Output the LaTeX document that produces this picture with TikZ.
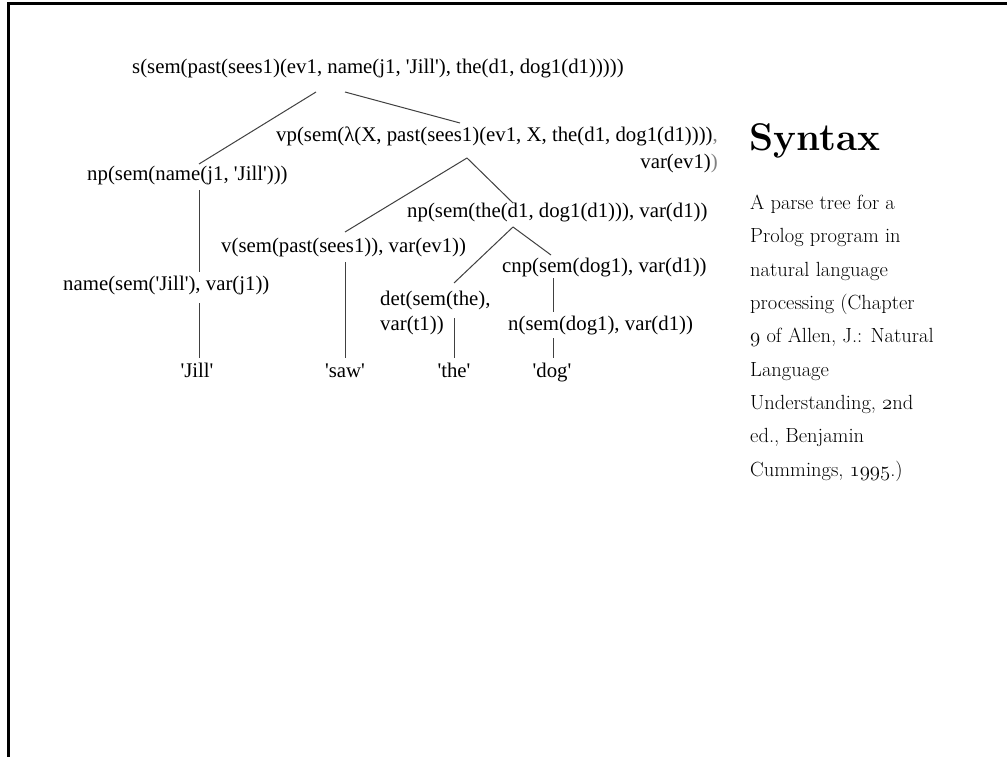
\documentclass[tikz,border=0pt]{standalone}
\usepackage{fontspec}
\newfontfamily\treefont{Liberation Serif}
\newcommand\osn[1]{{\usefont{OML}{cmm}{m}{it}#1}}
\begin{document}
\begin{tikzpicture}[x=1pt,y=-1pt,
  tn/.style={inner sep=0pt, font=\fontsize{20.8}{27}\selectfont\treefont},
  leaf/.style={tn, anchor=base},
  br/.style={line width=1pt, draw=black!75},
  sidebar/.style={inner sep=0pt, align=left, anchor=base west, font=\fontsize{20.5}{33.3}\selectfont}]
\fill[white] (0,0) rectangle (1007,757);
\useasboundingbox (0,0) rectangle (1007,757);
\draw[line width=3pt] (8.5,757) -- (8.5,4) -- (1007,4);

% tree nodes (multi-line nodes are placed by their last baseline)
\node[tn, anchor=base west] (s) at (132,74) {s(sem(past(sees1)(ev1, name(j1, 'Jill'), the(d1, dog1(d1)))))};
\node[tn, anchor=base east, align=right] (vp) at (718,168) {vp(sem(λ(X, past(sees1)(ev1, X, the(d1, dog1(d1))))\textcolor{gray}{,}\\var(ev1)\textcolor{gray}{)}};
\node[tn, anchor=base west] (npn) at (87,181) {np(sem(name(j1, 'Jill')))};
\node[tn, anchor=base west] (npt) at (407,218) {np(sem(the(d1, dog1(d1))), var(d1))};
\node[tn, anchor=base west] (v) at (221,252) {v(sem(past(sees1)), var(ev1))};
\node[tn, anchor=base west] (cnp) at (502,272) {cnp(sem(dog1), var(d1))};
\node[tn, anchor=base west] (name) at (63,290) {name(sem('Jill'), var(j1))};
\node[tn, anchor=base west, align=left, font=\fontsize{20.8}{25}\selectfont\treefont] (det) at (380,330) {det(sem(the),\\var(t1))};
\node[tn, anchor=base west] (n) at (508,330) {n(sem(dog1), var(d1))};
\node[leaf] (jill) at (197,377) {'Jill'};
\node[leaf] (saw) at (345,377) {'saw'};
\node[leaf] (the) at (454,377) {'the'};
\node[leaf] (dog) at (552,377) {'dog'};

% connector end points
\coordinate (s-l) at (316,92);
\coordinate (s-r) at (345,92);
\coordinate (npn-t) at (199,164);
\coordinate (npn-b) at (199,190);
\coordinate (vp-t) at (460,123);
\coordinate (vp-b) at (467,158);
\coordinate (v-t) at (345,232);
\coordinate (v-b) at (345,262);
\coordinate (npt-t) at (513,203);
\coordinate (npt-b) at (513,227);
\coordinate (det-t) at (454,283);
\coordinate (det-b) at (454,318);
\coordinate (cnp-t) at (551,255);
\coordinate (cnp-b) at (553,278);
\coordinate (name-t) at (199,272);
\coordinate (name-b) at (199,303);
\coordinate (n-t) at (553,312);
\coordinate (n-b) at (553,338);
\coordinate (jill-t) at (199,358);
\coordinate (saw-t) at (345,358);
\coordinate (the-t) at (454,358);
\coordinate (dog-t) at (553,358);

\draw[br] (s-l) -- (npn-t);
\draw[br] (s-r) -- (vp-t);
\draw[br] (vp-b) -- (v-t);
\draw[br] (vp-b) -- (npt-t);
\draw[br] (npt-b) -- (det-t);
\draw[br] (npt-b) -- (cnp-t);
\draw[br] (npn-b) -- (name-t);
\draw[br] (name-b) -- (jill-t);
\draw[br] (v-b) -- (saw-t);
\draw[br] (det-b) -- (the-t);
\draw[br] (cnp-b) -- (n-t);
\draw[br] (n-b) -- (dog-t);

% side text
\node[inner sep=0pt, anchor=base west, font=\fontsize{38.6}{40}\selectfont\bfseries] (title) at (749,150) {Syntax};
\node[sidebar] (caption) at (750,476) {A parse tree for a\\Prolog program in\\natural language\\processing (Chapter\\\osn{9} of Allen, J.: Natural\\Language\\Understanding, \osn{2}nd\\ed., Benjamin\\Cummings, \osn{1995}.)};
\end{tikzpicture}
\end{document}
